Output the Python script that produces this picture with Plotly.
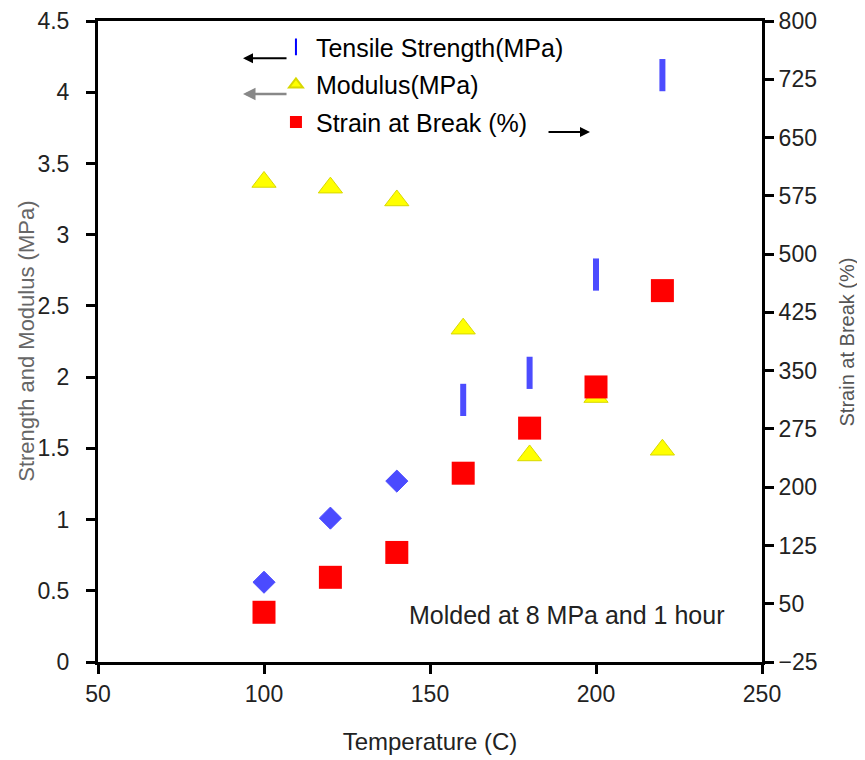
import plotly.graph_objects as go

temperature = [100, 120, 140, 160, 180, 200, 220]
tensile_strength = [0.56, 1.01, 1.27, 1.84, 2.03, 2.72, 4.12]
modulus = [3.37, 3.33, 3.24, 2.34, 1.45, 1.86, 1.49]
strain_at_break = [39, 84, 116, 218, 276, 329, 453]

left_ticks = [0, 0.5, 1, 1.5, 2, 2.5, 3, 3.5, 4, 4.5]
left_ticktext = ["0", "0.5", "1", "1.5", "2", "2.5", "3", "3.5", "4", "4.5"]
right_ticks = [-25, 50, 125, 200, 275, 350, 425, 500, 575, 650, 725, 800]
x_ticks = [50, 100, 150, 200, 250]

FONT = "Liberation Sans, Arial, sans-serif"
TXT = "#222222"

tensile_symbols = ["diamond", "diamond", "diamond", "line-ns-open", "line-ns-open", "line-ns-open", "line-ns-open"]
tensile_sizes = [17, 17, 17, 23, 23, 23, 23]
tensile_lw = [1, 1, 1, 6, 6, 6, 6]

fig = go.Figure()

# legend-only entries
fig.add_trace(go.Scatter(x=[None], y=[None], mode="markers", name="Tensile Strength(MPa)",
                         legendgroup="a",
                         marker=dict(symbol="line-ns-open", size=18, color="#0000ff",
                                     line=dict(color="#0000ff", width=6))))
fig.add_trace(go.Scatter(x=temperature, y=tensile_strength, mode="markers", showlegend=False,
                         marker=dict(symbol=tensile_symbols, size=tensile_sizes, color="#0000ff",
                                     line=dict(color="#0000ff", width=tensile_lw))))
fig.add_trace(go.Scatter(x=temperature, y=modulus, mode="markers", name="Modulus(MPa)",
                         legendgroup="b",
                         marker=dict(symbol="triangle-up", size=21, color="#ffff00",
                                     line=dict(color="#d8d800", width=1))))
fig.add_trace(go.Scatter(x=temperature, y=strain_at_break, mode="markers", name="Strain at Break (%)",
                         legendgroup="c", yaxis="y2",
                         marker=dict(symbol="square", size=23, color="#ff0000",
                                     line=dict(color="#ff0000", width=0))))

axis_common = dict(showline=True, linecolor="black", linewidth=3, ticks="outside",
                   ticklen=9, tickwidth=3, tickcolor="black", showgrid=False, zeroline=False,
                   automargin=False, ticklabeloverflow="allow",
                   tickfont=dict(family=FONT, size=23, color=TXT))

fig.update_layout(
    width=857, height=752,
    margin=dict(l=90, r=103, t=13, b=98, autoexpand=False),
    paper_bgcolor="white", plot_bgcolor="white",
    font=dict(family=FONT, size=24, color=TXT),
    xaxis=dict(range=[50, 250], tickvals=x_ticks, mirror=True,
               title=dict(text="Temperature (C)", font=dict(family=FONT, size=24, color=TXT), standoff=28),
               **axis_common),
    yaxis=dict(range=[0, 4.5], tickvals=left_ticks, ticktext=left_ticktext,
               ticklabelstandoff=12, **axis_common),
    yaxis2=dict(range=[-25, 800], tickvals=right_ticks, overlaying="y", side="right",
                **axis_common),
    legend=dict(x=0.268, y=0.995, xanchor="left", yanchor="top", bgcolor="rgba(0,0,0,0)",
                font=dict(family=FONT, size=25, color="black"), tracegroupgap=2,
                itemsizing="constant"),
    showlegend=True,
)

annotations = [
    dict(text="Strength and Modulus (MPa)", textangle=-90, xref="paper", yref="paper",
         x=-0.108, y=0.5, xanchor="center", yanchor="middle", showarrow=False,
         font=dict(family=FONT, size=22, color="#666666")),
    dict(text="Strain at Break (%)", textangle=-90, xref="paper", yref="paper",
         x=1.128, y=0.5, xanchor="center", yanchor="middle", showarrow=False,
         font=dict(family=FONT, size=20, color="#555555")),
    dict(text="Molded at 8 MPa and 1 hour", xref="paper", yref="paper",
         x=0.705, y=0.073, xanchor="center", yanchor="middle", showarrow=False,
         font=dict(family=FONT, size=25, color=TXT)),
    dict(text="", xref="paper", yref="paper", x=0.2184, y=0.942, ax=45, ay=0,
         showarrow=True, arrowhead=2, arrowsize=1, arrowwidth=2, arrowcolor="black"),
    dict(text="", xref="paper", yref="paper", x=0.2184, y=0.886, ax=45, ay=0,
         showarrow=True, arrowhead=2, arrowsize=1, arrowwidth=2.5, arrowcolor="#888888"),
    dict(text="", xref="paper", yref="paper", x=0.741, y=0.827, ax=-43, ay=0,
         showarrow=True, arrowhead=2, arrowsize=1, arrowwidth=2, arrowcolor="black"),
]
fig.update_layout(annotations=annotations)

fig.write_html("out.html")
